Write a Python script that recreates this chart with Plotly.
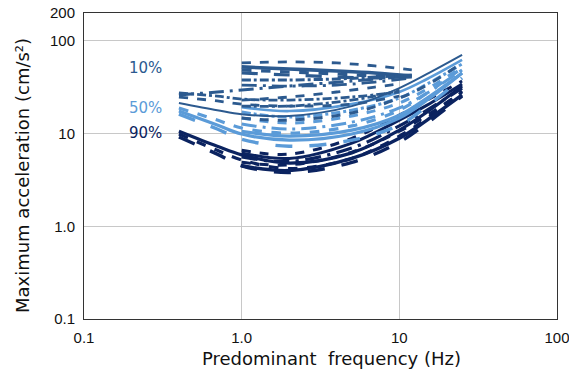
import plotly.graph_objects as go

# ---------------- data (frequency in Hz, acceleration in cm/s^2) ----------------
f_long = [0.4, 0.7, 1, 2, 5, 10, 15, 25]       # curves 0.4 Hz -> 25 Hz
f_mid = [1, 2, 5, 10, 15, 25]                   # curves 1 Hz -> 25 Hz
f_low10 = [0.4, 0.7, 1, 2, 5, 10]               # curves 0.4 Hz -> 10 Hz
f_top = [1, 2, 4, 7, 12]                        # curves 1 Hz -> 12 Hz
f_top10 = [1, 2, 4, 7, 10]                      # curves 1 Hz -> 10 Hz

# 90 % group
n90_a = [10.6, 7.3, 5.9, 4.8, 6.2, 10.9, 17.1, 32.6]
n90_b = [9.9, 6.6, 5.2, 4.2, 5.4, 9.4, 14.7, 28.8]
n90_c = [9.2, 6.0, 4.5, 3.8, 4.9, 8.1, 13.0, 25.4]
n90_d = [6.6, 6.0, 8.9, 15.8, 23.0, 36.9]
n90_e = [6.2, 5.4, 7.9, 14.0, 20.3, 34.3]
n90_f = [5.6, 5.0, 7.0, 12.1, 17.9, 31.0]
n90_g = [4.9, 4.6, 6.3, 10.6, 15.8, 28.1]
n90_h = [4.5, 4.0, 5.4, 8.9, 14.0, 26.1]

# 50 % group
n50_a = [18.9, 14.0, 11.5, 10.1, 12.1, 17.9, 27.4, 51.1]
n50_b = [17.5, 12.4, 9.9, 8.5, 9.9, 14.7, 23.0, 45.1]
n50_c = [16.2, 11.2, 8.7, 7.3, 8.5, 12.4, 19.8, 39.8]
n50_d = [19.3, 17.5, 20.8, 28.1, 38.8, 62.3]
n50_e = [17.1, 15.1, 17.9, 24.2, 34.3, 56.4]
n50_f = [14.7, 13.0, 15.5, 21.4, 30.3, 52.4]
n50_g = [12.7, 11.2, 13.3, 18.9, 27.4, 48.6]
n50_h = [10.6, 9.4, 10.9, 15.8, 24.2, 45.1]

# 10 % group
n10_s = [21.4, 17.9, 16.2, 15.5, 19.8, 31.0, 44.0, 70.6]
n10_d1 = [26.1, 28.1, 29.5, 32.6, 36.9, 40.8]
n10_d2 = [27.4, 25.4, 23.6, 23.0, 24.8, 28.1]
n10_d3 = [24.8, 22.5, 20.8, 19.8, 20.8, 25.4]
n10_t1 = [57.8, 59.3, 57.8, 53.7, 48.6]
n10_t2 = [52.4, 49.8, 47.4, 45.1, 41.8]
n10_t3 = [48.6, 46.2, 44.0, 41.8, 40.8]
n10_t4 = [45.1, 42.9, 40.8, 39.8, 40.8]
n10_t5 = [37.9, 37.9, 38.8, 40.8, 42.9]
n10_t9 = [33.4, 32.6, 33.4, 36.0, 39.8]
n10_t6 = [23.0, 24.8, 28.1, 31.8, 34.3]
n10_t7 = [19.8, 19.8, 21.9, 25.4, 29.5]
n10_t8 = [14.7, 14.0, 16.7, 24.2, 33.4, 57.8]

x_tick_vals = [0.1, 1, 10, 100]
x_tick_text = ["0.1", "1.0", "10", "100"]
y_tick_vals = [0.1, 1, 10, 100, 200]
y_tick_text = ["0.1", "1.0", "10", "100", "200"]
group_labels = ["10%", "50%", "90%"]

# ---------------- styling ----------------
C10 = "#2C5A8F"
C50 = "#5B9BD8"
C90 = "#0B2360"

curves = [
    # (x, y, colour, dash, width)
    (f_long, n90_a, C90, "solid", 3.2),
    (f_long, n90_b, C90, "dash", 3.2),
    (f_long, n90_c, C90, "longdash", 3.4),
    (f_mid, n90_d, C90, "dash", 3.0),
    (f_mid, n90_e, C90, "solid", 3.0),
    (f_mid, n90_f, C90, "longdashdot", 3.2),
    (f_mid, n90_g, C90, "dash", 3.0),
    (f_mid, n90_h, C90, "solid", 3.4),
    (f_long, n50_a, C50, "dash", 3.2),
    (f_long, n50_b, C50, "solid", 3.2),
    (f_long, n50_c, C50, "longdash", 3.4),
    (f_mid, n50_d, C50, "solid", 2.6),
    (f_mid, n50_e, C50, "dashdot", 3.0),
    (f_mid, n50_f, C50, "dash", 3.0),
    (f_mid, n50_g, C50, "longdashdot", 3.0),
    (f_mid, n50_h, C50, "solid", 3.2),
    (f_long, n10_s, C10, "solid", 2.0),
    (f_low10, n10_d1, C10, "longdashdot", 3.0),
    (f_low10, n10_d2, C10, "dashdot", 2.8),
    (f_low10, n10_d3, C10, "dash", 2.8),
    (f_top, n10_t1, C10, "dash", 2.8),
    (f_top, n10_t2, C10, "solid", 3.6),
    (f_top, n10_t3, C10, "dash", 3.2),
    (f_top, n10_t4, C10, "longdash", 3.2),
    (f_top, n10_t5, C10, "dashdot", 3.0),
    (f_top, n10_t9, C10, "longdashdot", 2.8),
    (f_top10, n10_t6, C10, "dash", 2.8),
    (f_top10, n10_t7, C10, "dashdot", 2.8),
    (f_mid, n10_t8, C10, "dash", 3.0),
]

fig = go.Figure()
for xs, ys, col, dash, w in curves:
    fig.add_trace(go.Scatter(
        x=xs, y=ys, mode="lines",
        line=dict(color=col, dash=dash, width=w, shape="spline", smoothing=1.0),
        showlegend=False, hoverinfo="skip",
    ))

FONT = "Arial, Liberation Sans, sans-serif"
WIDE = "DejaVu Sans, sans-serif"
axis_common = dict(
    type="log", showline=True, linecolor="#333333", linewidth=1, mirror=True,
    showgrid=True, gridcolor="#C8C8C8", gridwidth=1, zeroline=False, automargin=False,
    ticks="", ticklabeloverflow="allow",
    tickfont=dict(family=FONT, size=15, color="#111111"),
)
fig.update_xaxes(**axis_common, range=[-1, 2], tickvals=x_tick_vals,
                 ticktext=x_tick_text, ticklabelstandoff=5)
fig.update_yaxes(**axis_common, range=[-1, 2.30103], tickvals=y_tick_vals,
                 ticktext=y_tick_text, ticklabelstandoff=5)

# group labels
label_pos = [(-0.613, 1.708, C10), (-0.613, 1.276, C50), (-0.613, 1.005, C90)]
for txt, (lx, ly, col) in zip(group_labels, label_pos):
    fig.add_annotation(x=lx, y=ly, xref="x", yref="y", text=txt, showarrow=False,
                       font=dict(family=WIDE, size=15, color=col))

fig.add_annotation(text="Predominant&nbsp;&nbsp;frequency (Hz)", xref="paper", yref="paper",
                   x=0.524, y=-0.1275, xanchor="center", yanchor="middle", showarrow=False,
                   font=dict(family=WIDE, size=18, color="#111111"))
fig.add_annotation(text="Maximum acceleration (cm/s²)", xref="paper", yref="paper",
                   x=-0.131, y=0.4673, xanchor="center", yanchor="middle", showarrow=False,
                   textangle=-90, font=dict(family=WIDE, size=18, color="#111111"))

fig.update_layout(
    width=569, height=372,
    margin=dict(l=84, r=12, t=13, b=53),
    paper_bgcolor="white", plot_bgcolor="white",
)
fig.write_html("out.html", config={"displayModeBar": False},
               post_script="document.body.style.margin='0px';document.body.style.overflow='hidden';")
